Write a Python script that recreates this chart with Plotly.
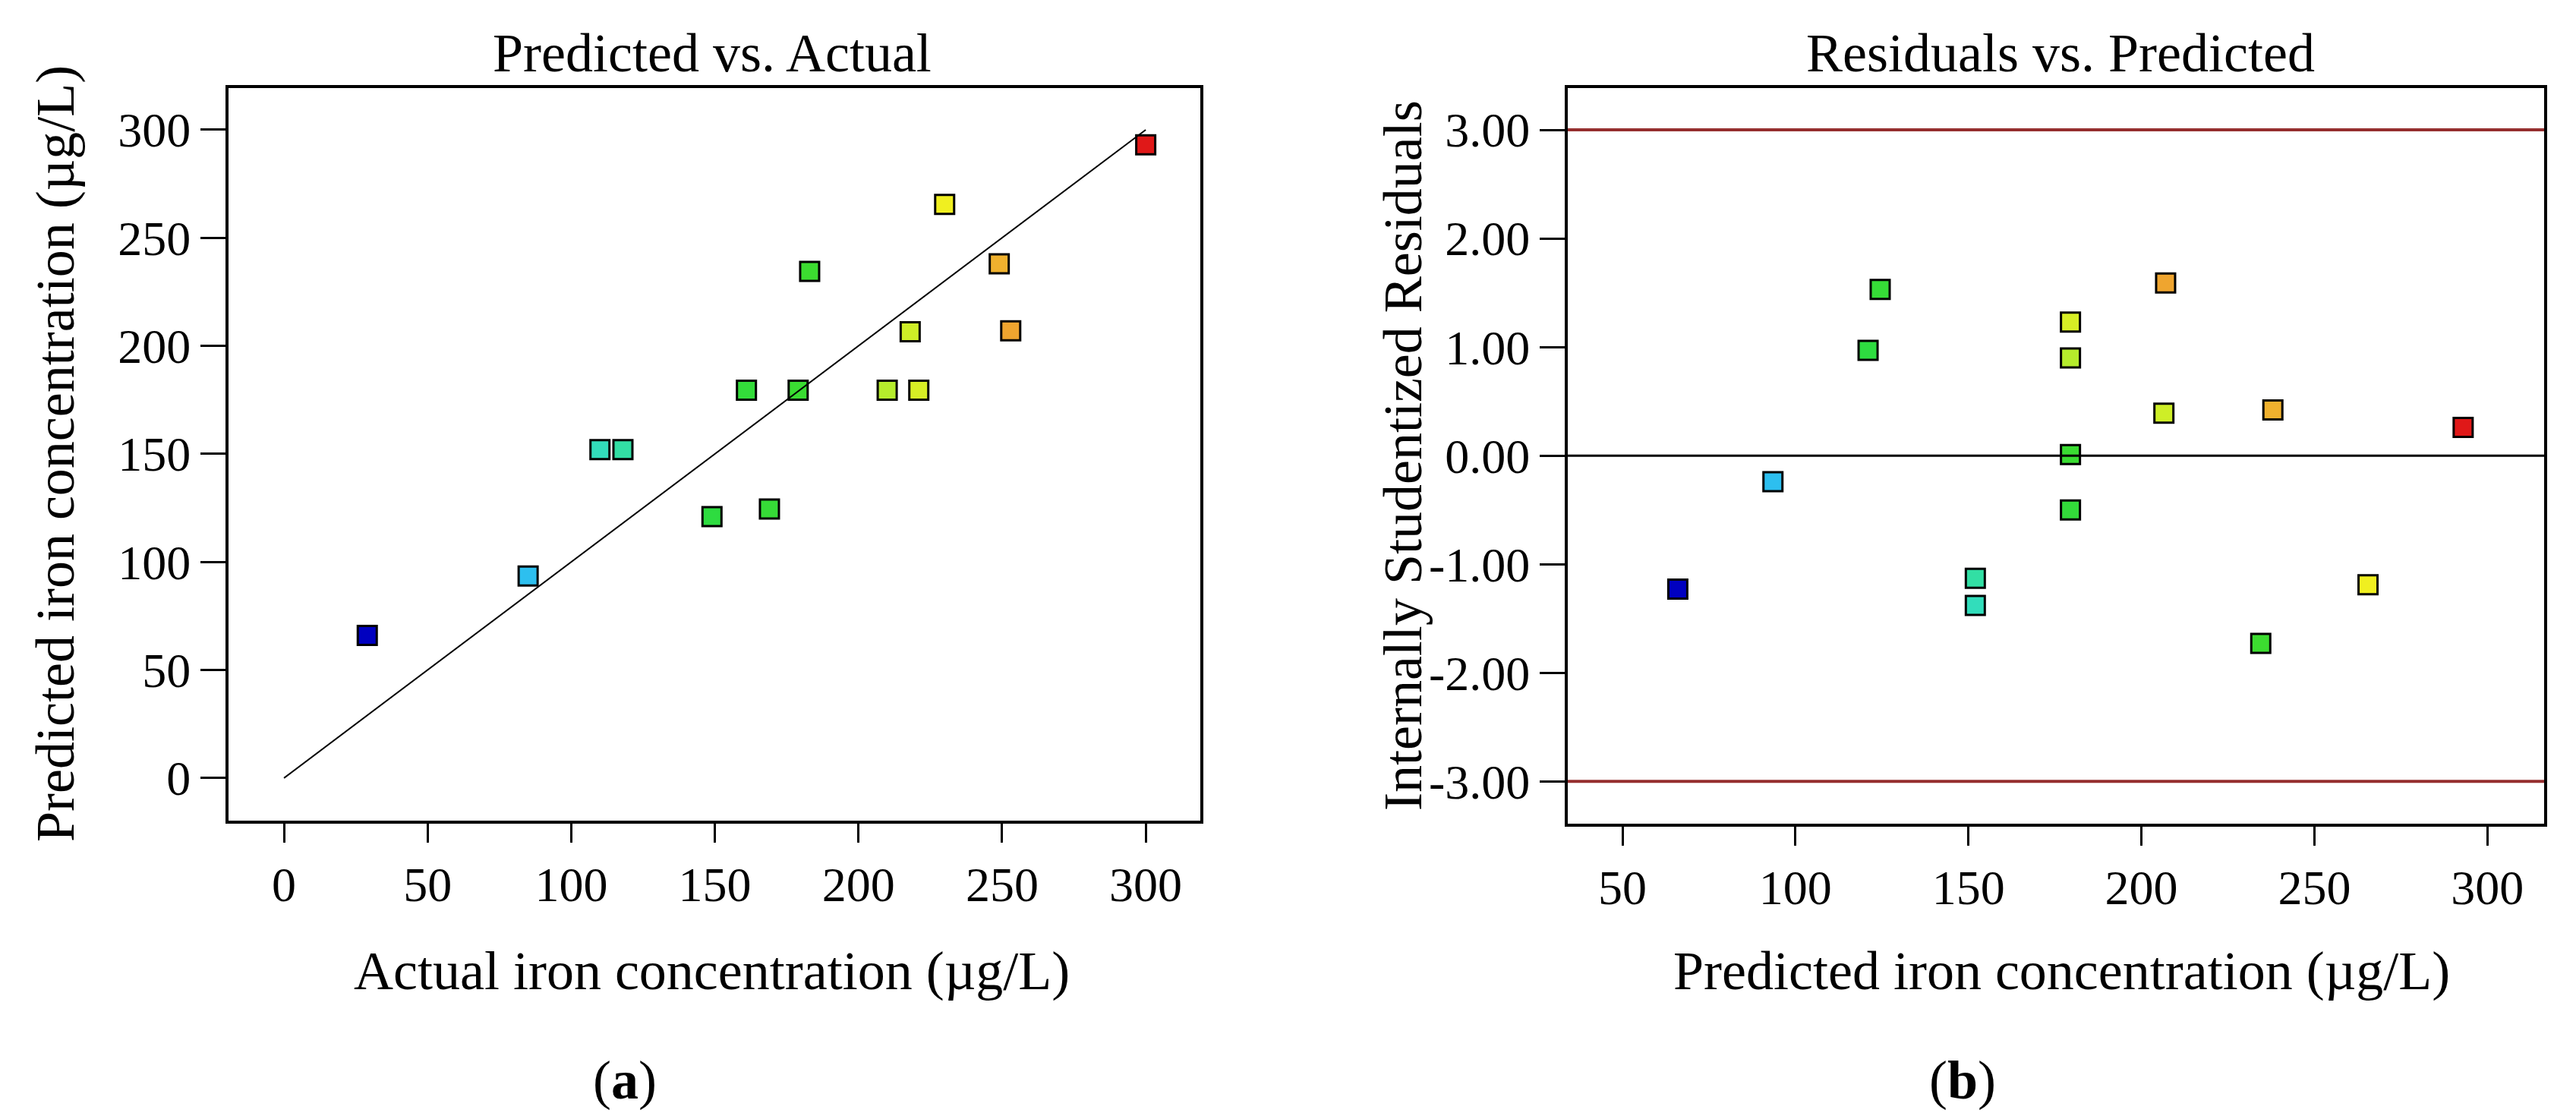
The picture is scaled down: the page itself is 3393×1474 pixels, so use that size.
import plotly.graph_objects as go

# ── DATA ─────────────────────────────────────────────────────────────────
actual = [300, 230, 249, 253, 218, 183, 161, 179, 210, 221, 110, 118, 149, 169, 85, 29]
predicted = [293, 265.5, 238, 207, 206.5, 234.5, 179.5, 179.5, 179.5, 179.5,
             152, 152, 121, 124.5, 93.5, 66]
residuals = [0.26, -1.19, 0.42, 1.59, 0.39, -1.73, -0.50, 0.01, 0.90, 1.23,
             -1.38, -1.13, 0.97, 1.53, -0.24, -1.23]

fit_line = [0, 300]          # y = x reference line
limits = [-3, 3]             # +/- 3 studentized residual limits

conc_ticks = [0, 50, 100, 150, 200, 250, 300]
pred_ticks = [50, 100, 150, 200, 250, 300]
resid_ticks = [-3, -2, -1, 0, 1, 2, 3]
resid_labels = ['-3.00', '-2.00', '-1.00', '0.00', '1.00', '2.00', '3.00']

# ── STYLE ────────────────────────────────────────────────────────────────
W, H = 3393, 1474
FONT = 'Liberation Serif'

# rainbow scale by actual value, blue (low) -> red (high)
rainbow = [
    [0.00, '#0000C0'],
    [0.21, '#2EC2F0'],
    [0.31, '#33E0B4'],
    [0.44, '#2EDC40'],
    [0.57, '#3CDC30'],
    [0.67, '#B8EC2C'],
    [0.74, '#F0F020'],
    [0.82, '#F0AA30'],
    [1.00, '#E01818'],
]

marker_style = dict(
    symbol='square', size=25,
    color=actual, colorscale=rainbow, cmin=min(actual), cmax=max(actual),
    line=dict(color='black', width=3),
)


def px_x(x):
    return x / W


def px_y(y):
    return 1 - y / H


fig = go.Figure()

# ── (a) Predicted vs. Actual ─────────────────────────────────────────────
fig.add_trace(go.Scatter(
    x=actual, y=predicted, mode='markers',
    marker=marker_style, xaxis='x', yaxis='y'
))
# fit line drawn on top of the markers, as in the original
fig.add_trace(go.Scatter(
    x=fit_line, y=fit_line, mode='lines',
    line=dict(color='black', width=2),
    xaxis='x', yaxis='y', hoverinfo='skip'
))

# ── (b) Residuals vs. Predicted ──────────────────────────────────────────
fig.add_trace(go.Scatter(
    x=predicted, y=residuals, mode='markers',
    marker=marker_style, xaxis='x2', yaxis='y2'
))
for lim in limits:
    fig.add_shape(type='line', xref='x2 domain', yref='y2',
                  x0=0, x1=1, y0=lim, y1=lim,
                  line=dict(color='#952E2E', width=4))
fig.add_shape(type='line', xref='x2 domain', yref='y2',
              x0=0, x1=1, y0=0, y1=0,
              line=dict(color='black', width=3))

axis_common = dict(
    showline=True, linecolor='black', linewidth=4, mirror=True,
    ticks='outside', tickcolor='black', tickwidth=3,
    showgrid=False, zeroline=False,
    tickfont=dict(family=FONT, size=64, color='black'),
)

fig.update_layout(
    width=W, height=H,
    margin=dict(l=0, r=0, t=0, b=0),
    paper_bgcolor='white', plot_bgcolor='white',
    showlegend=False,
    xaxis=dict(domain=[px_x(293), px_x(1573)], range=[-19.3, 319],
               tickvals=conc_ticks, ticklen=25, anchor='y', **axis_common),
    yaxis=dict(domain=[px_y(1073), px_y(108)], range=[-19.7, 319.3],
               tickvals=conc_ticks, ticklen=33, anchor='x', **axis_common),
    xaxis2=dict(domain=[px_x(2057), px_x(3343)], range=[34.2, 316.4],
                tickvals=pred_ticks, ticklen=25, anchor='y2', **axis_common),
    yaxis2=dict(domain=[px_y(1077), px_y(108)], range=[-3.39, 3.385],
                tickvals=resid_ticks, ticktext=resid_labels, ticklen=33,
                anchor='x2', **axis_common),
)

# ── TEXT ─────────────────────────────────────────────────────────────────
texts = [
    ('Predicted vs. Actual', 930, 62, 0),
    ('Residuals vs. Predicted', 2706, 62, 0),
    ('Actual iron concentration (µg/L)', 929, 1271, 0),
    ('Predicted iron concentration (µg/L)', 2707, 1271, 0),
    ('Predicted iron concentration (µg/L)', 65, 590, -90),
    ('Internally Studentized Residuals', 1840, 592, -90),
    ('(<b>a</b>)', 815, 1415, 0),
    ('(<b>b</b>)', 2577, 1415, 0),
]
for txt, x, y, angle in texts:
    fig.add_annotation(
        text=txt, xref='paper', yref='paper',
        x=px_x(x), y=px_y(y), xanchor='center', yanchor='middle',
        textangle=angle, showarrow=False,
        font=dict(family=FONT, size=72, color='black')
    )

fig.write_html('out.html')
